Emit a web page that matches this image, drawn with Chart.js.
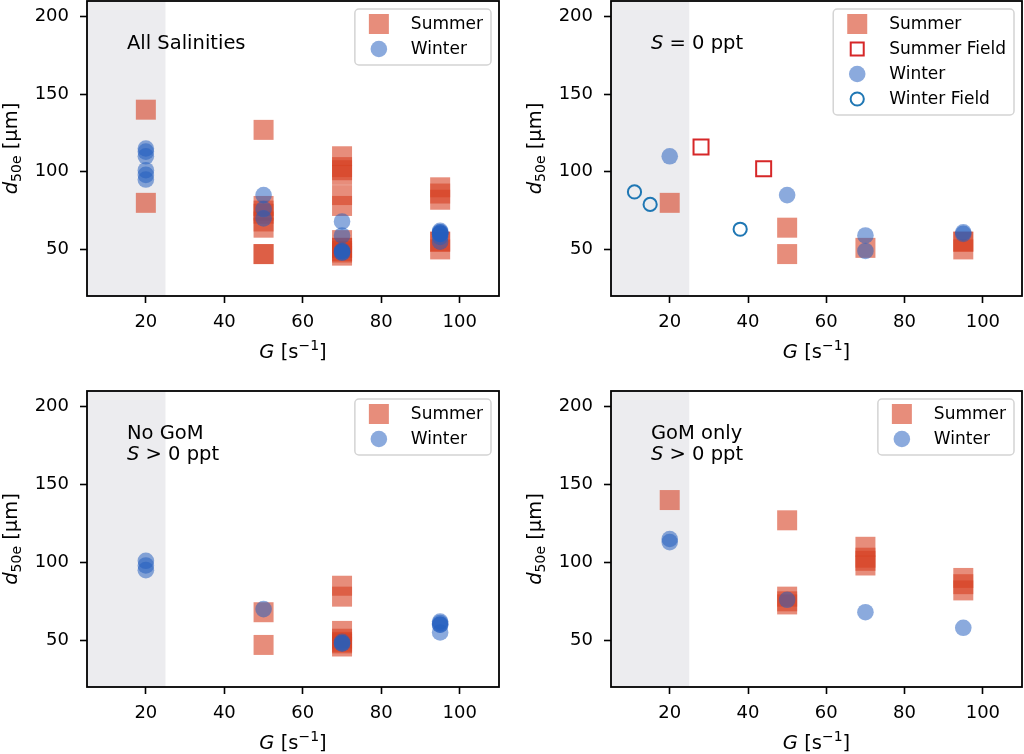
<!DOCTYPE html>
<html><head><meta charset="utf-8">
<script src="https://cdn.jsdelivr.net/npm/chart.js@4.4.1/dist/chart.umd.min.js"></script>
<style>
html,body{margin:0;padding:0;background:#fff;}
#wrap{position:relative;width:1024px;height:754px;overflow:hidden;background:#fff;}
.cell{position:absolute;width:512px;height:377px;}
canvas{display:block;}
</style></head><body>
<div id="wrap">
<div class="cell" style="left:0;top:0"><canvas id="c0" width="512" height="377"></canvas></div>
<div class="cell" style="left:512px;top:0"><canvas id="c1" width="512" height="377"></canvas></div>
<div class="cell" style="left:0;top:377px"><canvas id="c2" width="512" height="377"></canvas></div>
<div class="cell" style="left:512px;top:377px"><canvas id="c3" width="512" height="377"></canvas></div>
</div>
<script>
// ---- axes ----
const G_TICKS = [20, 40, 60, 80, 100];
const D_TICKS = [50, 100, 150, 200];
const G_RANGE = [5, 110];
const D_RANGE = [20, 210];
const SHADE = [5, 25];

// ---- S = 0 ppt ----
const s0SummerG = [20, 50, 50, 70, 95, 95, 95];
const s0SummerD = [80, 64, 47, 51, 55, 55, 50];
const s0SummerFieldG = [28, 44];
const s0SummerFieldD = [116, 102];
const s0WinterG = [20, 50, 70, 70, 95, 95];
const s0WinterD = [110, 85, 59, 49, 61, 60];
const s0WinterFieldG = [11, 15, 38];
const s0WinterFieldD = [87, 79, 63];

// ---- No GoM, S > 0 ----
const ngSummerG = [50, 50, 70, 70, 70, 70, 70, 70, 70];
const ngSummerD = [68, 47, 85, 78, 56, 51, 49, 48, 46];
const ngWinterG = [20, 20, 20, 50, 70, 70, 70, 95, 95, 95, 95, 95];
const ngWinterD = [101, 98, 95, 70, 49, 48, 48, 62, 61, 60, 60, 55];

// ---- GoM only, S > 0 ----
const gmSummerG = [20, 50, 50, 50, 50, 70, 70, 70, 70, 95, 95, 95];
const gmSummerD = [140, 127, 78, 75, 73, 110, 103, 101, 98, 90, 86, 82];
const gmWinterG = [20, 20, 50, 70, 95];
const gmWinterD = [115, 113, 76, 68, 58];

// ---- All salinities = union of the three groups ----
const allSummerG = [].concat(s0SummerG, ngSummerG, gmSummerG);
const allSummerD = [].concat(s0SummerD, ngSummerD, gmSummerD);
const allWinterG = [].concat(s0WinterG, ngWinterG, gmWinterG);
const allWinterD = [].concat(s0WinterD, ngWinterD, gmWinterD);

const FONT = '"DejaVu Sans", sans-serif';
const SUMMER = 'rgba(215,65,35,0.6)';
const WINTER = 'rgba(35,95,190,0.53)';
const SUMMER_FIELD = '#d62728';
const WINTER_FIELD = '#1f77b4';

function pts(g, d) { return g.map((v, i) => ({x: v, y: d[i]})); }

function summerSet(g, d) {
  return {label: 'Summer', data: pts(g, d), pointStyle: 'rect', pointRadius: 14.14,
    backgroundColor: SUMMER, borderWidth: 0, order: 3,
    legendMarker: {shape: 'rect', size: 20, fill: SUMMER}};
}
function summerFieldSet(g, d) {
  return {label: 'Summer Field', data: pts(g, d), pointStyle: 'rect', pointRadius: 10.6,
    backgroundColor: 'rgba(0,0,0,0)', borderColor: SUMMER_FIELD, borderWidth: 2, order: 1,
    legendMarker: {shape: 'rect', size: 13, stroke: SUMMER_FIELD, lw: 2}};
}
function winterSet(g, d) {
  return {label: 'Winter', data: pts(g, d), pointStyle: 'circle', pointRadius: 8.3,
    backgroundColor: WINTER, borderWidth: 0, order: 2,
    legendMarker: {shape: 'circle', size: 16.6, fill: WINTER}};
}
function winterFieldSet(g, d) {
  return {label: 'Winter Field', data: pts(g, d), pointStyle: 'circle', pointRadius: 6.6,
    backgroundColor: 'rgba(0,0,0,0)', borderColor: WINTER_FIELD, borderWidth: 2, order: 0,
    legendMarker: {shape: 'circle', size: 13.2, stroke: WINTER_FIELD, lw: 2}};
}

function piecesWidth(ctx, pieces, size) {
  let w = 0;
  for (const p of pieces) {
    const s = (p.sub || p.sup) ? size * 0.72 : size;
    ctx.font = (p.it ? 'italic ' : '') + s + 'px ' + FONT;
    w += ctx.measureText(p.t).width;
  }
  return w;
}
function drawPieces(ctx, pieces, x, y, size) {
  let cx = x;
  ctx.textBaseline = 'alphabetic';
  ctx.textAlign = 'left';
  for (const p of pieces) {
    const s = (p.sub || p.sup) ? size * 0.72 : size;
    ctx.font = (p.it ? 'italic ' : '') + s + 'px ' + FONT;
    const dy = p.sub ? size * 0.22 : (p.sup ? -size * 0.42 : 0);
    ctx.fillText(p.t, cx, y + dy);
    cx += ctx.measureText(p.t).width;
  }
}

const X_TITLE = [{t: 'G', it: true}, {t: ' [s'}, {t: '\u22121', sup: true}, {t: ']'}];
const Y_TITLE = [{t: 'd', it: true}, {t: '50e', sub: true}, {t: ' [\u00b5m]'}];

const decoPlugin = {
  id: 'deco',
  beforeDatasetsDraw(chart) {
    const {ctx, chartArea: a, scales: {x}} = chart;
    ctx.save();
    ctx.fillStyle = '#ececef';
    const x0 = x.getPixelForValue(SHADE[0]), x1 = x.getPixelForValue(SHADE[1]);
    ctx.fillRect(x0, a.top, x1 - x0, a.bottom - a.top);
    ctx.restore();
  },
  afterDatasetsDraw(chart, args, opts) {
    const {ctx, chartArea: a} = chart;
    ctx.save();
    // frame
    ctx.strokeStyle = '#000';
    ctx.lineWidth = 1.8;
    ctx.strokeRect(a.left, a.top, a.right - a.left, a.bottom - a.top);
    ctx.fillStyle = '#000';
    // axis titles
    const xs = 19.5;
    const xw = piecesWidth(ctx, X_TITLE, xs);
    drawPieces(ctx, X_TITLE, (a.left + a.right) / 2 - xw / 2, a.bottom + 62, xs);
    ctx.save();
    ctx.translate(a.left - 70, (a.top + a.bottom) / 2);
    ctx.rotate(-Math.PI / 2);
    const yw = piecesWidth(ctx, Y_TITLE, xs);
    drawPieces(ctx, Y_TITLE, -yw / 2, 0, xs);
    ctx.restore();
    // annotation
    (opts.ann || []).forEach((line, i) => {
      drawPieces(ctx, line, a.left + 40, a.top + 47.5 + i * 21.5, 19.5);
    });
    // legend
    const sets = chart.data.datasets;
    const order = opts.legendOrder;
    ctx.font = '17px ' + FONT;
    let tw = 0;
    order.forEach(i => { tw = Math.max(tw, ctx.measureText(sets[i].label).width); });
    const bw = 56 + tw + 8;
    const bh = 15 + 25 * (order.length - 1) + 16;
    const bx = a.right - 8 - bw, by = a.top + 8;
    const r = 4;
    ctx.beginPath();
    ctx.moveTo(bx + r, by);
    ctx.lineTo(bx + bw - r, by); ctx.arcTo(bx + bw, by, bx + bw, by + r, r);
    ctx.lineTo(bx + bw, by + bh - r); ctx.arcTo(bx + bw, by + bh, bx + bw - r, by + bh, r);
    ctx.lineTo(bx + r, by + bh); ctx.arcTo(bx, by + bh, bx, by + bh - r, r);
    ctx.lineTo(bx, by + r); ctx.arcTo(bx, by, bx + r, by, r);
    ctx.closePath();
    ctx.fillStyle = 'rgba(255,255,255,0.8)';
    ctx.fill();
    ctx.strokeStyle = '#d4d4d4';
    ctx.lineWidth = 1.5;
    ctx.stroke();
    order.forEach((idx, k) => {
      const ds = sets[idx], m = ds.legendMarker;
      const mx = bx + 24, my = by + 15 + k * 25;
      ctx.save();
      if (m.shape === 'rect') {
        if (m.fill) { ctx.fillStyle = m.fill; ctx.fillRect(mx - m.size / 2, my - m.size / 2, m.size, m.size); }
        else { ctx.strokeStyle = m.stroke; ctx.lineWidth = m.lw; ctx.strokeRect(mx - m.size / 2, my - m.size / 2, m.size, m.size); }
      } else {
        ctx.beginPath(); ctx.arc(mx, my, m.size / 2, 0, Math.PI * 2);
        if (m.fill) { ctx.fillStyle = m.fill; ctx.fill(); }
        else { ctx.strokeStyle = m.stroke; ctx.lineWidth = m.lw; ctx.stroke(); }
      }
      ctx.restore();
      ctx.fillStyle = '#000';
      ctx.font = '17px ' + FONT;
      ctx.textBaseline = 'middle';
      ctx.textAlign = 'left';
      ctx.fillText(ds.label, bx + 56, my + 1);
    });
    ctx.restore();
  }
};

function makeChart(id, box, datasets, legendOrder, ann) {
  const H = 377, W = 512;
  return new Chart(document.getElementById(id), {
    type: 'scatter',
    data: {datasets},
    options: {
      responsive: false, animation: false, events: [],
      layout: {autoPadding: false, padding: {left: 0, top: box.T, right: W - box.R, bottom: 0}},
      plugins: {legend: {display: false}, tooltip: {enabled: false},
        deco: {legendOrder, ann}},
      scales: {
        x: {
          type: 'linear', min: G_RANGE[0], max: G_RANGE[1],
          afterBuildTicks: s => { s.ticks = G_TICKS.map(v => ({value: v})); },
          afterFit: s => { s.height = H - box.B; s.paddingLeft = 0; s.paddingRight = 0; },
          ticks: {font: {family: FONT, size: 18}, color: '#000', padding: 9, maxRotation: 0, autoSkip: false},
          grid: {drawOnChartArea: false, drawTicks: true, tickLength: 7, tickWidth: 1.6, tickColor: '#000'},
          border: {display: false}
        },
        y: {
          type: 'linear', min: D_RANGE[0], max: D_RANGE[1],
          afterBuildTicks: s => { s.ticks = D_TICKS.map(v => ({value: v})); },
          afterFit: s => { s.width = box.L; s.paddingTop = 0; s.paddingBottom = 0; },
          ticks: {font: {family: FONT, size: 18}, color: '#000', padding: 11, autoSkip: false},
          grid: {drawOnChartArea: false, drawTicks: true, tickLength: 7, tickWidth: 1.6, tickColor: '#000'},
          border: {display: false}
        }
      }
    },
    plugins: [decoPlugin]
  });
}

makeChart('c0', {L: 87, T: 1, R: 499, B: 296},
  [summerSet(allSummerG, allSummerD), winterSet(allWinterG, allWinterD)], [0, 1],
  [[{t: 'All Salinities'}]]);

makeChart('c1', {L: 99, T: 1, R: 510, B: 296},
  [summerSet(s0SummerG, s0SummerD), summerFieldSet(s0SummerFieldG, s0SummerFieldD),
   winterSet(s0WinterG, s0WinterD), winterFieldSet(s0WinterFieldG, s0WinterFieldD)], [0, 1, 2, 3],
  [[{t: 'S', it: true}, {t: ' = 0 ppt'}]]);

makeChart('c2', {L: 87, T: 14, R: 499, B: 310},
  [summerSet(ngSummerG, ngSummerD), winterSet(ngWinterG, ngWinterD)], [0, 1],
  [[{t: 'No GoM'}], [{t: 'S', it: true}, {t: ' > 0 ppt'}]]);

makeChart('c3', {L: 99, T: 14, R: 510, B: 310},
  [summerSet(gmSummerG, gmSummerD), winterSet(gmWinterG, gmWinterD)], [0, 1],
  [[{t: 'GoM only'}], [{t: 'S', it: true}, {t: ' > 0 ppt'}]]);
</script>
</body></html>
